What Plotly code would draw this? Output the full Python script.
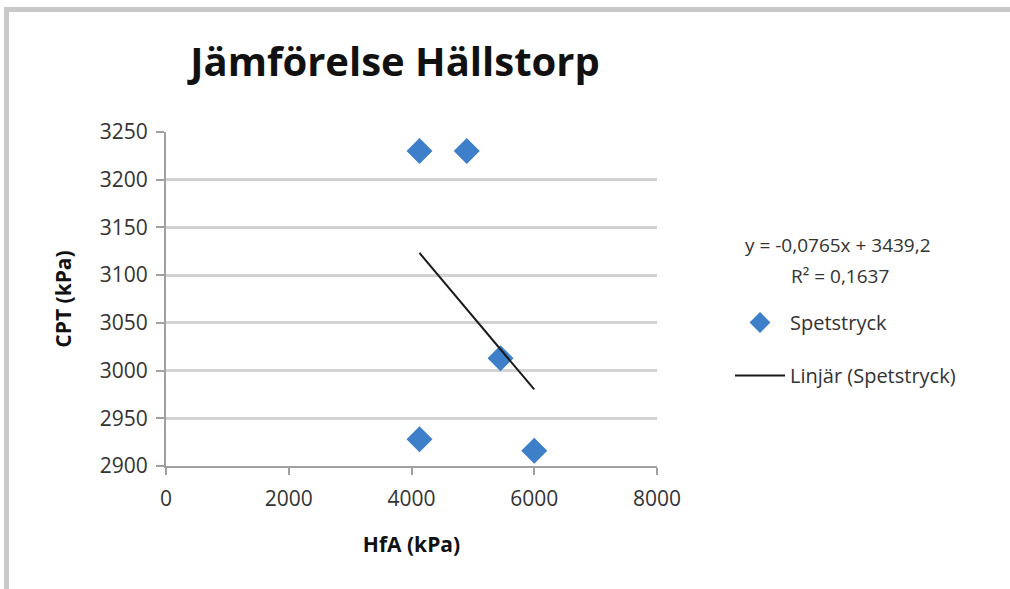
import plotly.graph_objects as go

# Measured values (kPa)
hfa = [4130, 4900, 5450, 4130, 6000]
cpt = [3230, 3230, 3013, 2928, 2916]

# Linear trendline coefficients
slope = -0.0765
intercept = 3439.2
r_squared = 0.1637

x_ticks = [0, 2000, 4000, 6000, 8000]
y_ticks = [2900, 2950, 3000, 3050, 3100, 3150, 3200, 3250]

FONT = "Open Sans"
W, H = 1010, 589
L, R, T, B = 166, 353, 132, 123

trend_x = [min(hfa), max(hfa)]
trend_y = [slope * v + intercept for v in trend_x]

fig = go.Figure()
fig.add_trace(go.Scatter(
    x=hfa, y=cpt, mode="markers", name="Spetstryck", legendgroup="a",
    marker=dict(symbol="diamond", size=20, color="#3d7fc9",
                line=dict(width=0)),
))
fig.add_trace(go.Scatter(
    x=trend_x, y=trend_y, mode="lines", name="Linjär (Spetstryck)",
    legendgroup="b",
    line=dict(color="#1a1a1a", width=2),
))


def px_to_paper_x(px):
    return (px - L) / (W - L - R)


def px_to_paper_y(py):
    return (H - B - py) / (H - T - B)


def fmt(v, nd):
    return f"{v:.{nd}f}".replace(".", ",")


eq_text = f"y = {fmt(slope, 4)}x + {fmt(intercept, 1)}"
r2_text = f"R² = {fmt(r_squared, 4)}"

TICK_FONT = dict(family=FONT, size=21, color="#333333")

fig.update_layout(
    width=W, height=H,
    margin=dict(l=L, r=R, t=T, b=B),
    paper_bgcolor="white", plot_bgcolor="white",
    font=dict(family=FONT, size=20, color="#333333"),
    title=dict(text="<b>Jämförelse Hällstorp</b>",
               font=dict(family=FONT, size=40, color="#111111"),
               x=px_to_paper_x(395), xref="paper", xanchor="center",
               y=1 - 62 / H, yanchor="middle"),
    showlegend=True,
    legend=dict(x=px_to_paper_x(730), y=px_to_paper_y(303), xanchor="left",
                yanchor="top", font=dict(family=FONT, size=20, color="#333333"),
                itemwidth=50, tracegroupgap=24, bgcolor="rgba(0,0,0,0)"),
    xaxis=dict(range=[0, 8000], tickvals=x_ticks, showgrid=False,
               showline=True, linecolor="#a0a0a0", linewidth=2,
               ticks="outside", ticklen=7, tickcolor="#a0a0a0", tickwidth=2,
               ticklabelstandoff=6,
               tickfont=TICK_FONT, zeroline=False,
               title=dict(text="<b>HfA (kPa)</b>", standoff=26,
                          font=dict(family=FONT, size=21, color="#111111"))),
    yaxis=dict(range=[2900, 3250], tickvals=y_ticks, showgrid=True,
               gridcolor="#d2d2d2", gridwidth=3,
               showline=True, linecolor="#a0a0a0", linewidth=2,
               ticks="outside", ticklen=8, tickcolor="#a0a0a0", tickwidth=2,
               ticklabelstandoff=4,
               tickfont=TICK_FONT, zeroline=False,
               title=dict(text="<b>CPT (kPa)</b>", standoff=22,
                          font=dict(family=FONT, size=21, color="#111111"))),
)

# Trendline equation and R² beside the legend
fig.add_annotation(text=eq_text, xref="paper", yref="paper",
                   x=px_to_paper_x(838), y=px_to_paper_y(245),
                   showarrow=False, xanchor="center", yanchor="middle",
                   font=dict(family=FONT, size=19, color="#333333"))
fig.add_annotation(text=r2_text, xref="paper", yref="paper",
                   x=px_to_paper_x(840), y=px_to_paper_y(276),
                   showarrow=False, xanchor="center", yanchor="middle",
                   font=dict(family=FONT, size=19, color="#333333"))

# Chart-area frame: top and left edges
fig.add_shape(type="line", xref="paper", yref="paper", layer="below",
              x0=px_to_paper_x(4), x1=px_to_paper_x(1012),
              y0=px_to_paper_y(9.5), y1=px_to_paper_y(9.5),
              line=dict(color="#c8c8c8", width=5))
fig.add_shape(type="line", xref="paper", yref="paper", layer="below",
              x0=px_to_paper_x(6.5), x1=px_to_paper_x(6.5),
              y0=px_to_paper_y(7), y1=px_to_paper_y(592),
              line=dict(color="#c8c8c8", width=5))

fig.write_html("out.html")
